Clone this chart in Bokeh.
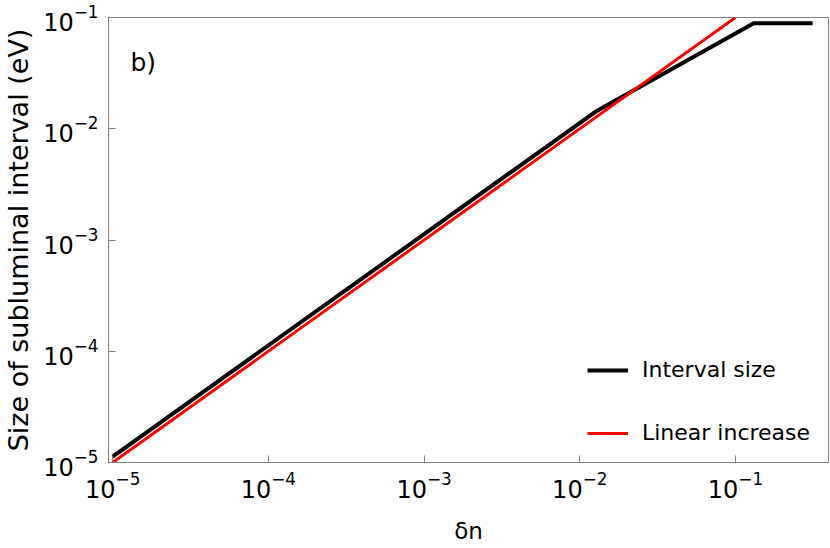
from bokeh.plotting import figure
from bokeh.models import Range1d, Legend, LegendItem, Label, FixedTicker
from bokeh.embed import file_html
from bokeh.resources import INLINE

# data
interval_x = [1e-5, 0.0126, 0.131, 0.313]
interval_y = [1.13e-5, 0.0142, 0.0889, 0.0889]
linear_x = [1e-5, 0.1]
linear_y = [1e-5, 0.1]
x_ticks = [1e-5, 1e-4, 1e-3, 1e-2, 1e-1]
y_ticks = [1e-5, 1e-4, 1e-3, 1e-2, 1e-1]

FONT = "DejaVu Sans"
GRAY = "#7f7f7f"

p = figure(width=829, height=546, x_axis_type="log", y_axis_type="log",
           x_range=Range1d(9.4e-6, 0.396), y_range=Range1d(1e-5, 1e-1),
           output_backend="svg", toolbar_location=None,
           min_border_left=108, min_border_right=1, min_border_top=17, min_border_bottom=82)

p.xgrid.grid_line_color = None
p.ygrid.grid_line_color = None
p.outline_line_color = GRAY
p.outline_line_width = 1
p.background_fill_color = "white"
p.border_fill_color = "white"

for ax in (p.xaxis[0], p.yaxis[0]):
    ax.axis_line_color = GRAY
    ax.major_tick_line_color = GRAY
    ax.major_tick_in = 7
    ax.major_tick_out = 0
    ax.minor_tick_line_color = None
    ax.major_label_text_font = FONT
    ax.major_label_text_font_size = "24px"
    ax.major_label_text_color = "black"
    ax.axis_label_text_font = FONT
    ax.axis_label_text_font_style = "normal"
    ax.axis_label_text_color = "black"

p.xaxis[0].ticker = FixedTicker(ticks=x_ticks)
p.yaxis[0].ticker = FixedTicker(ticks=y_ticks)
p.xaxis[0].major_label_standoff = 8
p.yaxis[0].major_label_standoff = 10
p.xaxis[0].axis_label = "δn"
p.xaxis[0].axis_label_text_font_size = "23px"
p.xaxis[0].axis_label_standoff = 17
p.yaxis[0].axis_label = "Size of subluminal interval (eV)"
p.yaxis[0].axis_label_text_font_size = "27px"
p.yaxis[0].axis_label_standoff = 6

r_int = p.line(interval_x, interval_y, line_color="black", line_width=4)
r_lin = p.line(linear_x, linear_y, line_color="#ff0000", line_width=3)

legend = Legend(items=[LegendItem(label="Interval size", renderers=[r_int]),
                       LegendItem(label="Linear increase", renderers=[r_lin])],
                location=(479, 17), padding=0, margin=0, spacing=38,
                glyph_width=41, glyph_height=20, label_standoff=14,
                label_text_font=FONT, label_text_font_size="22px",
                label_text_color="black",
                border_line_color=None, background_fill_alpha=0)
p.add_layout(legend)

p.add_layout(Label(x=1.3e-5, y=0.039, text="b)", text_font=FONT, text_font_size="25px",
                   text_baseline="middle", text_color="black"))

open("out.html", "w").write(file_html(p, INLINE))
